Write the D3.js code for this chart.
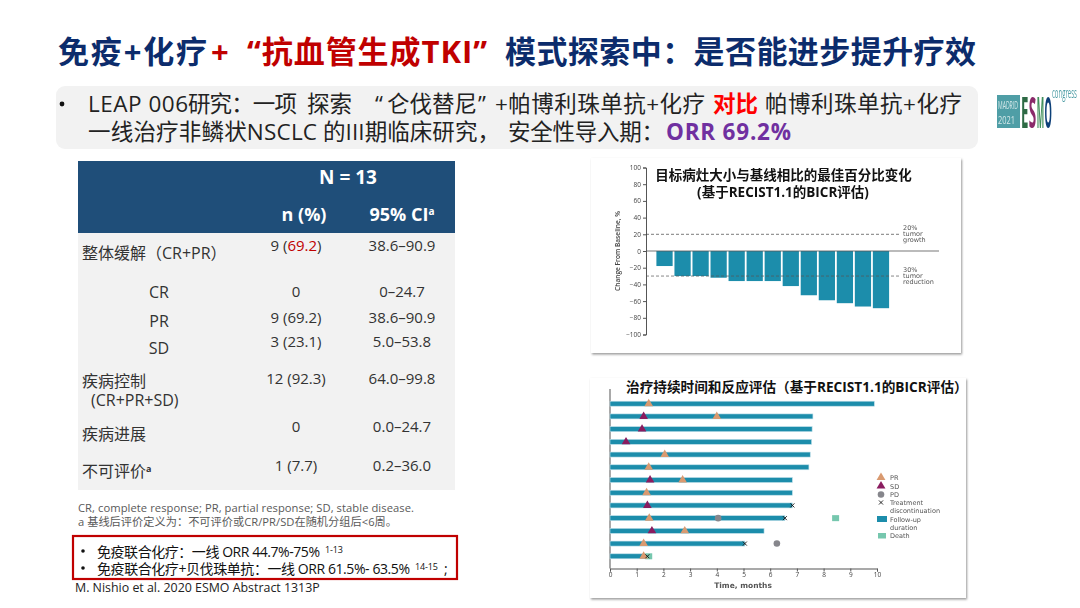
<!DOCTYPE html>
<html>
<head>
<meta charset="utf-8">
<script src="https://cdn.jsdelivr.net/npm/d3@7/dist/d3.min.js"></script>
<style>
	html, body { margin: 0; padding: 0; background: #fff; }
	svg { display: block; }
	text { font-family: "Open Sans", "Noto Sans CJK SC", sans-serif; }
</style>
</head>
<body>
<svg id="slide" width="1080" height="608"></svg>
<script>
/*
 * Data
 */
var tableLabels = ['整体缓解（CR+PR）', 'CR', 'PR', 'SD', '疾病控制', '疾病进展', '不可评价'];
var tableN = ['9 (69.2)', '0', '9 (69.2)', '3 (23.1)', '12 (92.3)', '0', '1 (7.7)'];
var tableCI = ['38.6–90.9', '0–24.7', '38.6–90.9', '5.0–53.8', '64.0–99.8', '0.0–24.7', '0.2–36.0'];

var changeValues = [-18, -30, -30, -32, -36, -36, -36, -42, -53, -59, -62.5, -66.5, -68.5];
var changeTicks = [100, 80, 60, 40, 20, 0, -20, -40, -60, -80, -100];

var followUp = [9.9, 7.6, 7.57, 7.55, 7.5, 7.45, 6.83, 6.83, 6.83, 6.55, 5.77, 5.05, 1.3];
var prEvents = [[0, 1.45], [1, 4.0], [4, 2.05], [5, 1.45], [6, 2.72], [7, 1.37], [9, 1.47], [10, 2.8], [11, 1.26], [12, 1.26]];
var sdEvents = [[1, 1.26], [2, 1.2], [3, 0.6], [6, 1.5], [8, 1.4], [10, 1.57]];
var pdEvents = [[9, 4.05], [11, 6.25]];
var stopEvents = [[8, 6.83], [9, 6.55], [11, 5.05], [12, 1.4]];
var deathEvents = [[9, 8.45], [12, 1.45]];
var timeTicks = [0, 1, 2, 3, 4, 5, 6, 7, 8, 9, 10];

var navy = '#0c2c6c';
var red = '#c00000';
var teal = '#1f8dab';
var prColor = '#d99a70';
var sdColor = '#8a1b5e';
var pdColor = '#86868c';
var deathColor = '#76c7ae';

var svg = d3.select('#slide');

var defs = svg.append('defs');
defs.append('filter').attr('id', 'soft')
	.append('feGaussianBlur').attr('stdDeviation', 0.4);
var shadow = defs.append('filter').attr('id', 'shadow')
	.attr('x', '-5%').attr('y', '-5%').attr('width', '110%').attr('height', '110%');
shadow.append('feDropShadow')
	.attr('dx', 1).attr('dy', 1.5).attr('stdDeviation', 1.2)
	.attr('flood-color', '#000').attr('flood-opacity', 0.4);

// text made of differently styled runs: [string, color, weight, size, dy]
var richText = function (parent, x, y, size, runs, anchor) {
	var t = parent.append('text')
		.attr('x', x)
		.attr('y', y)
		.attr('font-size', size)
		.attr('text-anchor', anchor || 'start');
	runs.forEach(function (r) {
		var span = t.append('tspan').text(r[0]);
		if (r[1]) span.attr('fill', r[1]);
		if (r[2]) span.attr('font-weight', r[2]);
		if (r[3]) span.attr('font-size', r[3]);
		if (r[4]) span.attr('dy', r[4]);
	});
	return t;
};

// one run stretched between two x positions
var spanText = function (parent, x1, x2, y, size, str, color, weight) {
	return parent.append('text')
		.attr('x', x1)
		.attr('y', y)
		.attr('font-size', size)
		.attr('font-weight', weight || 400)
		.attr('fill', color)
		.attr('textLength', x2 - x1)
		.attr('lengthAdjust', 'spacing')
		.text(str);
};

// one run squeezed horizontally to a given width
var squeezeText = function (parent, x, y, width, size, str, color, weight) {
	var t = parent.append('text')
		.attr('font-size', size)
		.attr('font-weight', weight || 400)
		.attr('fill', color)
		.text(str);
	var scale = width / t.node().getComputedTextLength();
	t.attr('transform', 'translate(' + x + ',' + y + ') scale(' + scale + ',1)');
	return t;
};

/*
 * Title and subtitle
 */
spanText(svg, 58, 207, 63, 31, '免疫+化疗', navy, 700);
spanText(svg, 211, 227, 63, 31, '+', red, 700);
spanText(svg, 247, 487, 63, 31, '“抗血管生成TKI”', red, 700);
spanText(svg, 505, 976, 63, 31, '模式探索中：是否能进步提升疗效', navy, 700);

svg.append('rect')
	.attr('x', 56).attr('y', 86)
	.attr('width', 922).attr('height', 63)
	.attr('rx', 9)
	.attr('fill', '#f2f2f2');

svg.append('circle').attr('cx', 62).attr('cy', 104).attr('r', 2.4).attr('fill', '#111');

spanText(svg, 88, 188, 112, 22.5, 'LEAP 006', '#222');
spanText(svg, 188, 297, 112, 22.5, '研究：一项', '#222');
spanText(svg, 307, 352, 112, 22.5, '探索', '#222');
richText(svg, 375, 112, 22.5, [['“', '#222']]);
spanText(svg, 387, 477, 112, 22.5, '仑伐替尼', '#222');
richText(svg, 478, 112, 22.5, [['”', '#222']]);
spanText(svg, 495, 705, 112, 22.5, '+帕博利珠单抗+化疗', '#222');
spanText(svg, 713, 758, 112, 22.5, '对比', '#ff0000', 700);
spanText(svg, 765, 962, 112, 22.5, '帕博利珠单抗+化疗', '#222');
spanText(svg, 88, 317, 140, 22.5, '一线治疗非鳞状NSCLC', '#222');
spanText(svg, 323, 500, 140, 22.5, '的III期临床研究，', '#222');
spanText(svg, 508, 664, 140, 22.5, '安全性导入期：', '#222');
spanText(svg, 666, 791, 140, 22.5, 'ORR 69.2%', '#7030a0', 700);

/*
 * ESMO logo
 */
var logo = svg.append('g').attr('filter', 'url(#soft)');
logo.append('rect').attr('x', 997).attr('y', 95).attr('width', 23).attr('height', 33).attr('fill', '#4f9ea6');
squeezeText(logo, 998, 109, 20, 11, 'MADRID', '#d5e9ea');
squeezeText(logo, 998, 124, 17, 11, '2021', '#d5e9ea');
var logoLetters = ['E', 'S', 'M', 'O'];
var logoColors = ['#2f6b45', '#8a2a6a', '#3f8f5a', '#0f3f78'];
var logoX = d3.scaleBand().domain(logoLetters).range([1021, 1052]).paddingInner(0.06);
logoLetters.forEach(function (letter, i) {
	squeezeText(logo, logoX(letter), 128, logoX.bandwidth(), 43, letter, logoColors[i], 700);
});
squeezeText(logo, 1052, 98, 25, 15, 'congress', '#4f9ea6');

/*
 * Results table
 */
var tableLeft = 78;
var tableWidth = 377;
svg.append('rect').attr('x', tableLeft).attr('y', 233).attr('width', tableWidth).attr('height', 257).attr('fill', '#f2f2f2');
svg.append('rect').attr('x', tableLeft).attr('y', 161).attr('width', tableWidth).attr('height', 72).attr('fill', '#1f4e79');

richText(svg, 348, 184, 19, [['N = 13', '#fff', 700]], 'middle');
richText(svg, 304, 221, 18, [['n (%)', '#fff', 700]], 'middle');
richText(svg, 402, 221, 18, [['95% CI', '#fff', 700], ['a', '#fff', 700, 10, -6]], 'middle');

var labelY = [259, 298, 327, 354, 387, 440, 477];
var valueY = [251, 297, 323, 347, 384, 432, 471];
var labelX = [82, 159, 159, 159, 82, 82, 82];
var rowInk = '#333';

tableLabels.forEach(function (label, i) {
	var nested = labelX[i] !== 82;
	var runs = [[label, rowInk]];
	if (i === 6) runs.push(['a', rowInk, 700, 9, -5]);
	richText(svg, labelX[i], labelY[i], 16, runs, nested ? 'middle' : 'start');
	var nRuns = [[tableN[i], rowInk]];
	if (i === 0) nRuns = [['9 (', rowInk], ['69.2', '#c00000'], [')', rowInk]];
	richText(svg, 296, valueY[i], 15, nRuns, 'middle');
	richText(svg, 402, valueY[i], 15, [[tableCI[i], rowInk]], 'middle');
});
richText(svg, 91, 406, 16, [['(CR+PR+SD)', rowInk]]);

/*
 * Footnotes and highlighted box
 */
spanText(svg, 78, 414, 512, 11.2, 'CR, complete response; PR, partial response; SD, stable disease.', '#595959');
spanText(svg, 78, 397, 526, 11.2, 'a 基线后评价定义为：不可评价或CR/PR/SD在随机分组后<6周。', '#595959');

svg.append('rect')
	.attr('x', 73).attr('y', 536)
	.attr('width', 384).attr('height', 43)
	.attr('fill', 'none')
	.attr('stroke', red)
	.attr('stroke-width', 2.2);
svg.append('circle').attr('cx', 83).attr('cy', 551).attr('r', 1.8).attr('fill', '#111');
svg.append('circle').attr('cx', 83).attr('cy', 568).attr('r', 1.8).attr('fill', '#111');
spanText(svg, 97, 320, 557, 14, '免疫联合化疗：一线 ORR 44.7%-75%', '#111');
spanText(svg, 325, 343, 553, 9, '1-13', '#111');
spanText(svg, 97, 410, 574, 14, '免疫联合化疗+贝伐珠单抗：一线 ORR 61.5%- 63.5%', '#111');
spanText(svg, 415, 438, 570, 9, '14-15', '#111');
richText(svg, 444, 574, 14, [[';', '#111']]);
richText(svg, 75, 592, 12.4, [['M. Nishio et al. 2020 ESMO Abstract 1313P', '#222']]);

/*
 * Waterfall: best % change in target lesion size
 */
svg.append('rect').attr('x', 591).attr('y', 158).attr('width', 370).attr('height', 195)
	.attr('fill', '#fff').attr('filter', 'url(#shadow)');

var waterfall = svg.append('g').attr('filter', 'url(#soft)');
var yChange = d3.scaleLinear().domain([-100, 100]).range([334.5, 167.5]);
var xPatient = d3.scaleBand()
	.domain(d3.range(changeValues.length))
	.range([655.5, 890])
	.paddingInner(0.1)
	.paddingOuter(0.05);

var yAxis = waterfall.append('g')
	.attr('transform', 'translate(646,0)')
	.call(d3.axisLeft(yChange).tickValues(changeTicks).tickSize(3).tickPadding(2)
		.tickFormat(function (d) { return String(d).replace('-', '−'); }));
yAxis.selectAll('text').attr('font-size', 6.5).attr('fill', '#444');
yAxis.selectAll('line, path').attr('stroke', '#555');

waterfall.selectAll('.bar')
	.data(changeValues)
	.join('rect')
	.attr('class', 'bar')
	.attr('x', function (d, i) { return xPatient(i); })
	.attr('y', yChange(0))
	.attr('width', xPatient.bandwidth())
	.attr('height', function (d) { return yChange(d) - yChange(0); })
	.attr('fill', teal);

waterfall.append('line')
	.attr('x1', 646).attr('x2', 939)
	.attr('y1', yChange(0)).attr('y2', yChange(0))
	.attr('stroke', '#555').attr('stroke-width', 0.8);
waterfall.append('line')
	.attr('x1', 646).attr('x2', 900)
	.attr('y1', yChange(20)).attr('y2', yChange(20))
	.attr('stroke', '#444').attr('stroke-width', 0.7).attr('stroke-dasharray', '3 2');
waterfall.append('line')
	.attr('x1', 646).attr('x2', 900)
	.attr('y1', yChange(-30)).attr('y2', yChange(-30))
	.attr('stroke', '#555').attr('stroke-width', 0.7).attr('stroke-dasharray', '3 2');

var noteStyle = function (sel) {
	sel.attr('font-size', 6.5).attr('fill', '#555').style('font-family', '"DejaVu Sans", sans-serif');
};
[['20%', 230], ['tumor', 236], ['growth', 242], ['30%', 272], ['tumor', 278], ['reduction', 284]].forEach(function (n) {
	waterfall.append('text').attr('x', 903).attr('y', n[1]).text(n[0]).call(noteStyle);
});

waterfall.append('text')
	.attr('transform', 'translate(620,251) rotate(-90)')
	.attr('text-anchor', 'middle')
	.attr('font-size', 6.6)
	.attr('font-weight', 600)
	.attr('fill', '#444')
	.text('Change From Baseline, %');

richText(svg, 783.5, 180, 13.5, [['目标病灶大小与基线相比的最佳百分比变化', '#111', 700]], 'middle');
richText(svg, 783, 197, 13.5, [['(基于RECIST1.1的BICR评估)', '#111', 700]], 'middle');

/*
 * Swimmer plot: treatment duration and response
 */
svg.append('rect').attr('x', 590).attr('y', 378).attr('width', 376).attr('height', 220)
	.attr('fill', '#fff').attr('filter', 'url(#shadow)');

var swimmer = svg.append('g').attr('filter', 'url(#soft)');
var xTime = d3.scaleLinear().domain([0, 10]).range([610, 877]);
var yRow = d3.scalePoint()
	.domain(d3.range(followUp.length))
	.range([403.7, 556.3]);

var timeAxis = swimmer.append('g')
	.attr('transform', 'translate(0,568.5)')
	.call(d3.axisBottom(xTime).tickValues(timeTicks).tickSize(3).tickPadding(1));
timeAxis.selectAll('text').attr('font-size', 6.5).attr('fill', '#444');
timeAxis.selectAll('line, path').attr('stroke', '#555');

swimmer.append('line')
	.attr('x1', 610).attr('x2', 610)
	.attr('y1', 389).attr('y2', 568.5)
	.attr('stroke', '#555');

swimmer.selectAll('.follow')
	.data(followUp)
	.join('rect')
	.attr('class', 'follow')
	.attr('x', xTime(0))
	.attr('y', function (d, i) { return yRow(i) - 2.5; })
	.attr('width', function (d) { return xTime(d) - xTime(0); })
	.attr('height', 5)
	.attr('fill', teal)
	.attr('stroke', '#bfe0ea')
	.attr('stroke-width', 0.6);

var place = function (d) {
	return 'translate(' + xTime(d[1]) + ',' + yRow(d[0]) + ')';
};

swimmer.selectAll('.death')
	.data(deathEvents)
	.join('rect')
	.attr('class', 'death')
	.attr('x', function (d) { return xTime(d[1]) - 3.5; })
	.attr('y', function (d) { return yRow(d[0]) - 3; })
	.attr('width', 7)
	.attr('height', 6)
	.attr('fill', deathColor);

var markerGroup = function (name, events, symbol, size, color) {
	swimmer.selectAll('.' + name)
		.data(events)
		.join('path')
		.attr('class', name)
		.attr('transform', place)
		.attr('d', d3.symbol().type(symbol).size(size))
		.attr('fill', color);
};

markerGroup('pd', pdEvents, d3.symbolCircle, 34, pdColor);
markerGroup('pr', prEvents, d3.symbolTriangle, 32, prColor);
markerGroup('sd', sdEvents, d3.symbolTriangle, 32, sdColor);

swimmer.selectAll('.stop')
	.data(stopEvents)
	.join('path')
	.attr('class', 'stop')
	.attr('transform', place)
	.attr('d', d3.symbol().type(d3.symbolTimes).size(12))
	.attr('fill', 'none')
	.attr('stroke', '#111')
	.attr('stroke-width', 0.9);

swimmer.append('text')
	.attr('x', 743).attr('y', 588)
	.attr('text-anchor', 'middle')
	.attr('font-size', 7.5)
	.attr('font-weight', 700)
	.attr('fill', '#555')
	.style('font-family', '"DejaVu Sans", sans-serif')
	.text('Time, months');

richText(svg, 626, 392, 13.65, [['治疗持续时间和反应评估（基于RECIST1.1的BICR评估）', '#111', 700]]);

// legend
var legend = svg.append('g').attr('filter', 'url(#soft)');
var legendSymbol = function (symbol, size, color, y) {
	legend.append('path')
		.attr('transform', 'translate(881,' + y + ')')
		.attr('d', d3.symbol().type(symbol).size(size))
		.attr('fill', color);
};
legendSymbol(d3.symbolTriangle, 34, prColor, 477.5);
legendSymbol(d3.symbolTriangle, 34, sdColor, 486);
legendSymbol(d3.symbolCircle, 34, pdColor, 494.5);
legend.append('path')
	.attr('transform', 'translate(881,502.5)')
	.attr('d', d3.symbol().type(d3.symbolTimes).size(12))
	.attr('fill', 'none')
	.attr('stroke', '#111')
	.attr('stroke-width', 0.9);
legend.append('rect').attr('x', 877).attr('y', 516).attr('width', 10).attr('height', 6).attr('fill', teal);
legend.append('rect').attr('x', 878).attr('y', 533).attr('width', 8).attr('height', 5.5).attr('fill', deathColor);

[['PR', 480], ['SD', 488.5], ['PD', 497], ['Treatment', 505], ['discontinuation', 513], ['Follow-up', 522], ['duration', 530], ['Death', 538]].forEach(function (n) {
	legend.append('text').attr('x', 890).attr('y', n[1]).text(n[0]).call(noteStyle);
});
</script>
</body>
</html>
